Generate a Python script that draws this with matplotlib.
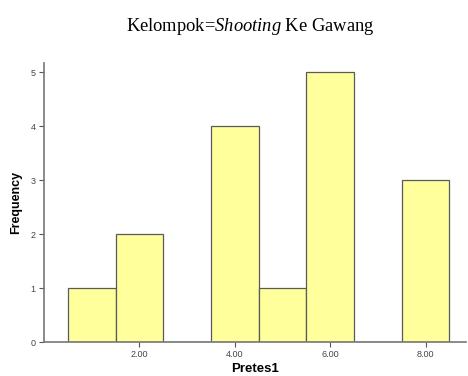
import matplotlib
matplotlib.use("Agg")
import matplotlib.pyplot as plt

# data
nilai = [1, 2, 3, 4, 5, 6, 7, 8]
frekuensi = [1, 2, 0, 4, 1, 5, 0, 3]
xticks = [2, 4, 6, 8]
xlabels = ["2.00", "4.00", "6.00", "8.00"]
yticks = [0, 1, 2, 3, 4, 5]

plt.rcParams['font.family'] = ['Liberation Sans', 'DejaVu Sans']
plt.rcParams['mathtext.fontset'] = 'custom'
plt.rcParams['mathtext.rm'] = 'Liberation Serif'
plt.rcParams['mathtext.it'] = 'Liberation Serif:italic'

fig = plt.figure(figsize=(4.68, 3.76), dpi=100)
ax = fig.add_axes([0.094, 0.090, 0.902, 0.742])

ax.bar(nilai, frekuensi, width=1.0, color='#ffff9c', edgecolor='#5a5a5a', linewidth=0.9)

ax.set_xlim(0, 8.85)
ax.set_ylim(0, 5.17)
ax.set_xticks(xticks)
ax.set_xticklabels(xlabels)
ax.set_yticks(yticks)
ax.tick_params(labelsize=6.5, length=3.5, width=0.8, pad=2.5, colors='#555555', labelcolor='#444444')
for s in ['top', 'right']:
    ax.spines[s].set_visible(False)
for s in ['left', 'bottom']:
    ax.spines[s].set_color('#777777')
    ax.spines[s].set_linewidth(1.2)

ax.set_ylabel('Frequency', fontsize=9, fontweight='bold', labelpad=6)
ax.set_xlabel('Pretes1', fontsize=9.5, fontweight='bold', labelpad=2.5)

fig.text(0.535, 0.93, r'Kelompok=$\mathit{Shooting}$ Ke Gawang', ha='center', va='center',
         fontsize=13.3, family='Liberation Serif')

fig.savefig('out.png', dpi=100)
